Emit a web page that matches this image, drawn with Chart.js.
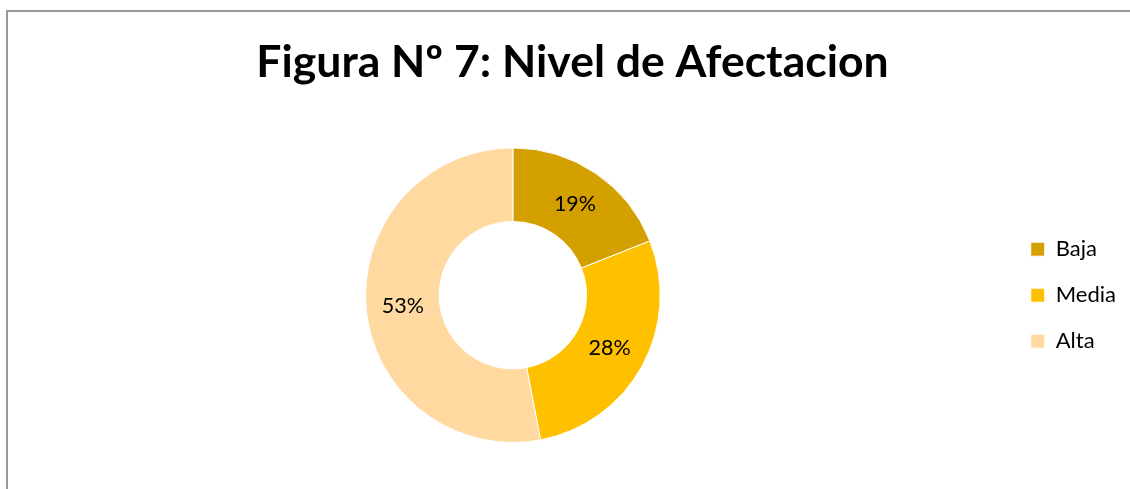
<!DOCTYPE html>
<html>
<head>
<meta charset="utf-8">
<script src="https://cdn.jsdelivr.net/npm/chart.js@4"></script>
<style>
  html, body { margin: 0; padding: 0; background: #fff; overflow: hidden; }
  #marco {
    position: absolute; left: 6px; top: 10px; width: 1200px; height: 600px;
    border-left: 2px solid #9a9a9a; border-top: 2px solid #9a9a9a;
  }
  #grafico { position: absolute; left: 0; top: 0; }
</style>
</head>
<body>
<div id="marco"></div>
<canvas id="grafico" width="1130" height="489"></canvas>
<script>
// Datos de la figura
const categorias = ['Baja', 'Media', 'Alta'];
const porcentajes = [19, 28, 53];
const colores = ['#D4A000', '#FFC000', '#FFD9A0'];

// Etiquetas de porcentaje sobre cada sector
const etiquetasSectores = {
  id: 'etiquetasSectores',
  afterDatasetsDraw(chart) {
    const ctx = chart.ctx;
    const meta = chart.getDatasetMeta(0);
    ctx.save();
    ctx.font = '21.5px Lato';
    ctx.fillStyle = '#000';
    ctx.textAlign = 'center';
    ctx.textBaseline = 'middle';
    meta.data.forEach((arco, i) => {
      const pos = arco.tooltipPosition();
      ctx.fillText(porcentajes[i] + '%', pos.x, pos.y);
    });
    ctx.restore();
  }
};

new Chart(document.getElementById('grafico'), {
  type: 'doughnut',
  data: {
    labels: categorias,
    datasets: [{
      data: porcentajes,
      backgroundColor: colores,
      borderColor: '#ffffff',
      borderWidth: 1
    }]
  },
  options: {
    responsive: false,
    devicePixelRatio: 1,
    animation: false,
    cutout: '50%',
    layout: { padding: { left: 19, right: 4, top: 0, bottom: 46 } },
    plugins: {
      title: {
        display: true,
        text: 'Figura Nº 7: Nivel de Afectacion',
        color: '#000',
        font: { family: 'Lato', size: 44.5, weight: 'bold' },
        padding: { top: 36, bottom: 58 }
      },
      legend: {
        position: 'right',
        fullSize: false,
        labels: {
          boxWidth: 14,
          boxHeight: 14,
          padding: 24,
          color: '#000',
          font: { family: 'Lato', size: 22 }
        }
      },
      tooltip: { enabled: false }
    }
  },
  plugins: [etiquetasSectores]
});
</script>
</body>
</html>
